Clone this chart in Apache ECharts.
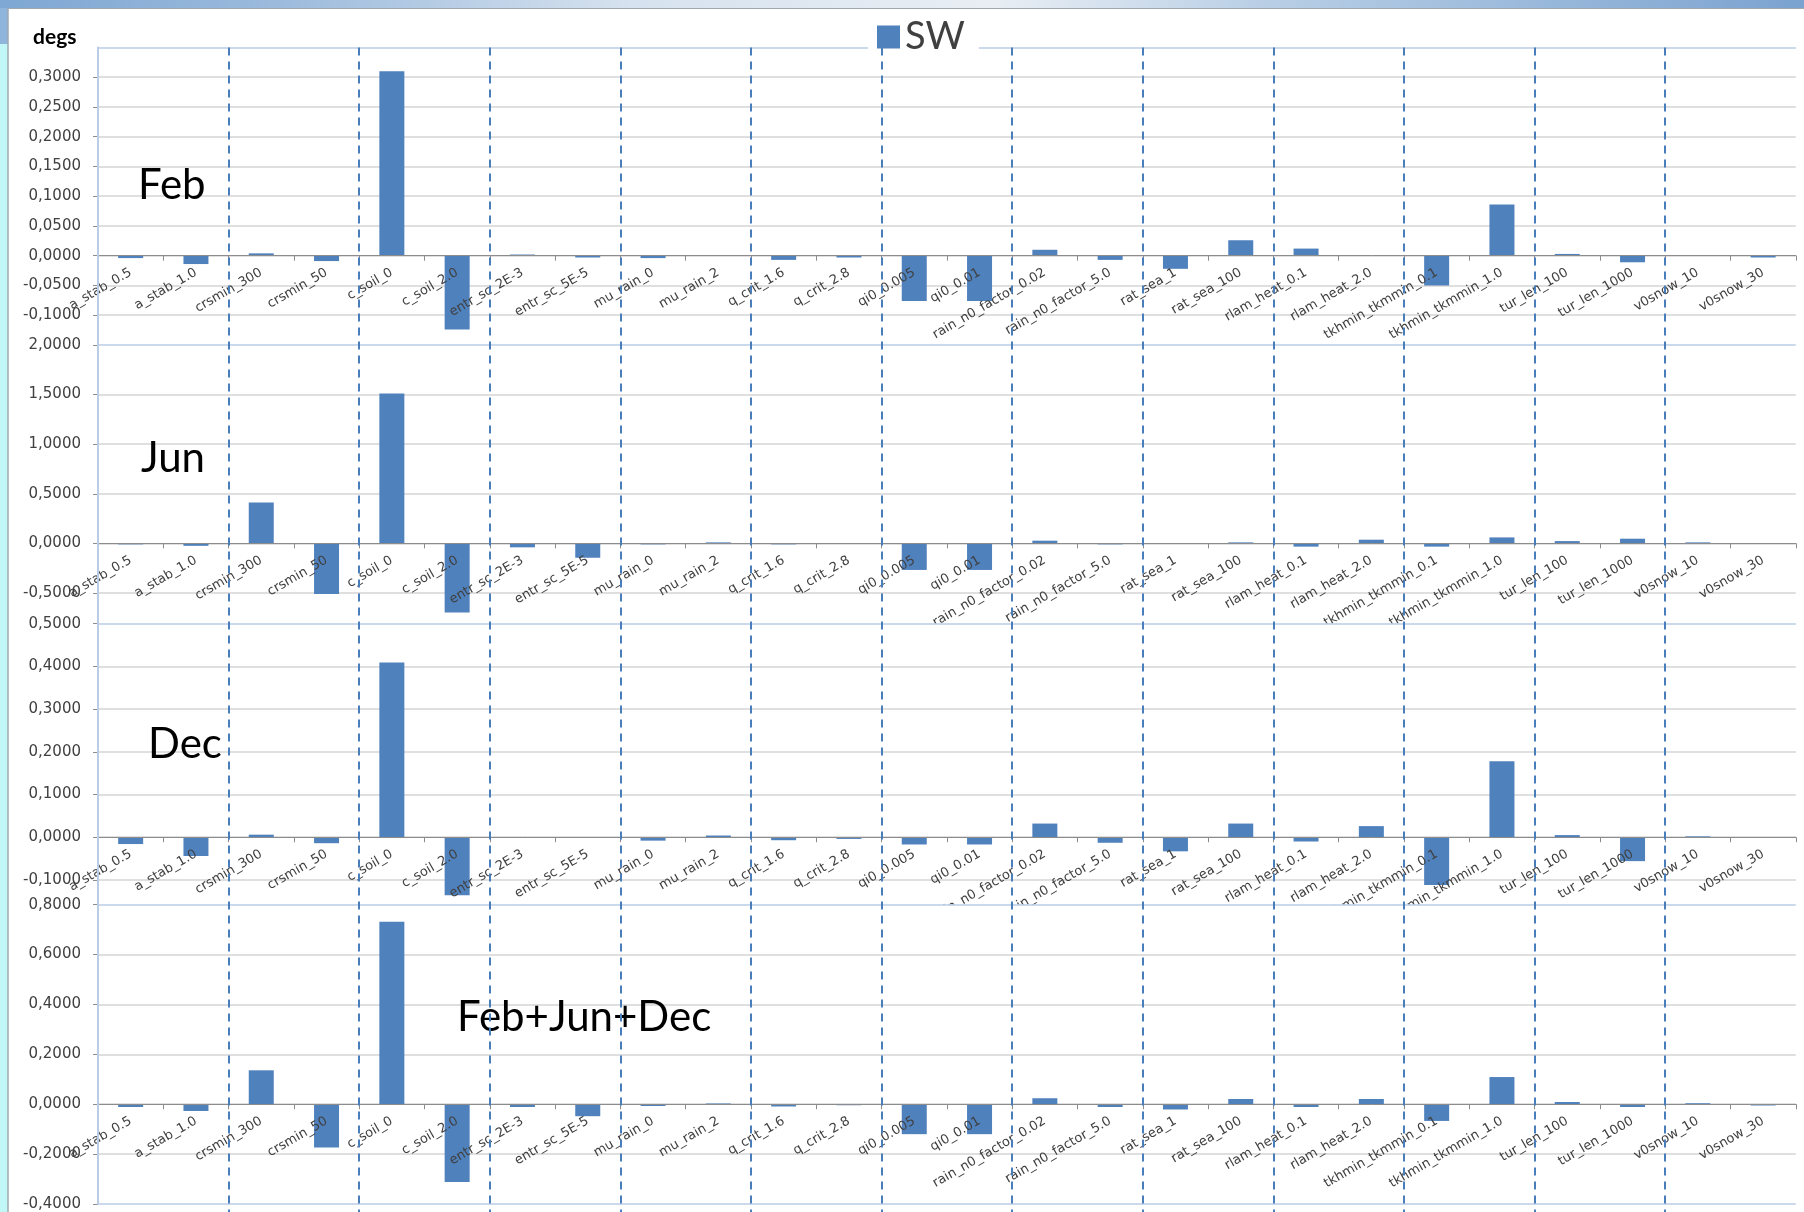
<!DOCTYPE html>
<html>
<head>
<meta charset="utf-8">
<script src="https://cdn.jsdelivr.net/npm/echarts@6/dist/echarts.min.js"></script>
<style>
html,body{margin:0;padding:0;background:#fff;}
#c{width:1804px;height:1212px;}
</style>
</head>
<body>
<div id="c"></div>
<script>
// ---------------- data ----------------
const categories = ['a_stab_0.5','a_stab_1.0','crsmin_300','crsmin_50','c_soil_0','c_soil_2.0',
  'entr_sc_2E-3','entr_sc_5E-5','mu_rain_0','mu_rain_2','q_crit_1.6','q_crit_2.8','qi0_0.005','qi0_0.01',
  'rain_n0_factor_0.02','rain_n0_factor_5.0','rat_sea_1','rat_sea_100','rlam_heat_0.1','rlam_heat_2.0',
  'tkhmin_tkmmin_0.1','tkhmin_tkmmin_1.0','tur_len_100','tur_len_1000','v0snow_10','v0snow_30'];
const febValues  = [-0.004,-0.014,0.004,-0.009,0.310,-0.124,0.002,-0.003,-0.004,0.001,-0.007,-0.003,-0.076,-0.076,
  0.010,-0.007,-0.022,0.026,0.012,0.000,-0.050,0.086,0.003,-0.011,0.001,-0.003];
const junValues  = [-0.010,-0.025,0.412,-0.510,1.512,-0.698,-0.040,-0.145,-0.010,0.010,-0.010,0.003,-0.268,-0.268,
  0.027,-0.010,0.002,0.010,-0.033,0.037,-0.033,0.060,0.023,0.047,0.010,0.000];
const decValues  = [-0.016,-0.044,0.006,-0.014,0.409,-0.136,0.000,-0.001,-0.008,0.004,-0.007,-0.004,-0.017,-0.017,
  0.032,-0.013,-0.033,0.032,-0.010,0.026,-0.112,0.178,0.005,-0.056,0.002,-0.001];
const combValues = [-0.011,-0.027,0.136,-0.173,0.732,-0.312,-0.011,-0.048,-0.007,0.003,-0.009,-0.004,-0.120,-0.120,
  0.024,-0.011,-0.021,0.021,-0.011,0.021,-0.067,0.109,0.009,-0.011,0.004,-0.005];
const panelLabels = ['Feb','Jun','Dec','Feb+Jun+Dec'];
const seriesName = 'SW';
const unitLabel = 'degs';
const yFormat = v => v.toFixed(4).replace('.', ',');

// ---------------- layout ----------------
const W = 1804, H = 1212;
const PLOT_LEFT = 98, CAT_W = 65.3, N = categories.length;
const FRAME_RIGHT = 1797;
const GRAY = '#8c8c8c', GRID = '#d4d4d4', FRAME = '#b9cde5', DASH = '#4a7ebb', BAR = '#4f81bd';

const panels = [
  {values: febValues,  top: 47.4,  bottom: 345,    min: -0.15,  max: 0.35, interval: 0.05, step: 0.05, showMin: false, showMax: false, minColor: 'rgba(0,0,0,0)', maxColor: FRAME,
   label: {left: 138, top: 164}},
  {values: junValues,  top: 345,   bottom: 623.7,  min: -0.81,  max: 2.0,  step: 0.5,  showMin: false, showMax: true, minColor: 'rgba(0,0,0,0)', maxColor: FRAME,
   label: {left: 141, top: 437}},
  {values: decValues,  top: 623.7, bottom: 904.7,  min: -0.158, max: 0.5,  step: 0.1,  showMin: false, showMax: true, minColor: 'rgba(0,0,0,0)', maxColor: FRAME,
   label: {left: 148, top: 723}},
  {values: combValues, top: 904.7, bottom: 1204,   min: -0.4,   max: 0.8,  interval: 0.2, step: 0.2, showMin: true, showMax: true, minColor: FRAME, maxColor: FRAME,
   label: {left: 457, top: 996}}
];

function splitColors(p) {
  const eps = 1e-9;
  const first = Math.ceil(p.min / p.step - eps);
  const last = Math.floor(p.max / p.step + eps);
  const ticks = [];
  if (Math.abs(first * p.step - p.min) > 1e-6) ticks.push(p.min);
  for (let k = first; k <= last; k++) ticks.push(k * p.step);
  if (Math.abs(last * p.step - p.max) > 1e-6) ticks.push(p.max);
  return ticks.map((t, i) => i === 0 ? p.minColor : (i === ticks.length - 1 ? p.maxColor : GRID));
}

const grids = [], xAxes = [], yAxes = [], series = [], titles = [];

panels.forEach((p, i) => {
  const h = p.bottom - p.top;
  const zeroY = p.top + p.max / (p.max - p.min) * h;
  grids.push({left: PLOT_LEFT, width: CAT_W * N, top: p.top, height: h,
    show: true, backgroundColor: '#fff', borderWidth: 0, z: 10 * i});
  xAxes.push({type: 'category', gridIndex: i, data: categories, z: 10 * i + 3,
    position: 'bottom', offset: -(p.bottom - zeroY),
    axisLine: {show: true, onZero: false, lineStyle: {color: GRAY, width: 1}},
    axisTick: {show: true, length: 5, lineStyle: {color: GRAY}},
    axisLabel: {interval: 0, rotate: 30, margin: 16, fontFamily: 'DejaVu Sans', fontSize: 13, color: '#404040'},
    splitLine: {show: false}});
  const y = {type: 'value', gridIndex: i, min: p.min, max: p.max, z: 10 * i + 1,
    axisLine: {show: true, lineStyle: {color: GRAY, width: 1}},
    axisTick: {show: true, length: 5, lineStyle: {color: GRAY}},
    axisLabel: {formatter: yFormat, fontFamily: 'DejaVu Sans', fontSize: 15, color: '#404040', margin: 17,
      showMinLabel: p.showMin, showMaxLabel: p.showMax},
    splitLine: {show: true, lineStyle: {color: splitColors(p), width: 1.5}}};
  if (p.interval) y.interval = p.interval;
  yAxes.push(y);
  series.push({type: 'bar', name: seriesName, xAxisIndex: i, yAxisIndex: i, data: p.values,
    barWidth: 25, itemStyle: {color: BAR}, z: 10 * i + 2, animation: false});
  titles.push({text: panelLabels[i], left: p.label.left, top: p.label.top, padding: 0, z: 60,
    textStyle: {fontFamily: 'Lato', fontSize: 42, fontWeight: 'normal', color: '#000'}});
});

// dashed separators every two categories
grids.push({left: PLOT_LEFT + 2 * CAT_W, width: (N - 4) * CAT_W, top: 47.4, bottom: 0, z: 70});
xAxes.push({type: 'value', gridIndex: 4, min: 2, max: N - 2, interval: 2, z: 70,
  axisLine: {show: false}, axisTick: {show: false}, axisLabel: {show: false},
  splitLine: {show: true, lineStyle: {color: DASH, width: 2, type: [8, 6]}}});
yAxes.push({type: 'value', gridIndex: 4, show: false, min: 0, max: 1});

// right frame edge
grids.push({left: PLOT_LEFT, right: W - FRAME_RIGHT, top: 47.4, bottom: H - 1204, z: 65});
xAxes.push({type: 'value', gridIndex: 5, show: false, min: 0, max: 1});
yAxes.push({type: 'value', gridIndex: 5, position: 'right', min: 0, max: 1, z: 65,
  axisLine: {show: true, lineStyle: {color: FRAME, width: 2}},
  axisTick: {show: false}, axisLabel: {show: false}, splitLine: {show: false}});

titles.push({text: unitLabel, left: 33, top: 27, padding: 0, z: 60,
  textStyle: {fontFamily: 'Lato', fontSize: 21, fontWeight: 'bold', color: '#000'}});

const chart = echarts.init(document.getElementById('c'), null, {renderer: 'canvas'});
chart.setOption({
  animation: false,
  backgroundColor: '#fff',
  title: titles,
  legend: {data: [seriesName], left: 868, top: 18, itemWidth: 23, itemHeight: 23, icon: 'rect', itemGap: 0,
    padding: [0, 14, 0, 9], backgroundColor: '#fff', selectedMode: false, z: 60,
    textStyle: {fontFamily: 'Lato', fontSize: 38, color: '#404040'}},
  grid: grids,
  xAxis: xAxes,
  yAxis: yAxes,
  series: series,
  graphic: [
    {type: 'rect', z: 100, shape: {x: 0, y: 0, width: W, height: 8},
      style: {fill: {type: 'linear', x: 0, y: 0, x2: 1, y2: 0, colorStops: [
        {offset: 0, color: '#7ea7d3'}, {offset: 0.15, color: '#9bbadc'}, {offset: 0.35, color: '#d6e2ef'},
        {offset: 0.55, color: '#e9eef4'}, {offset: 0.7, color: '#b9cfe6'}, {offset: 1, color: '#7ba3d0'}]}}},
    {type: 'rect', z: 100, shape: {x: 0, y: 8, width: 8, height: H - 8}, style: {fill: '#c2f7f7'}},
    {type: 'rect', z: 100, shape: {x: 0, y: 8, width: 8, height: 36}, style: {fill: '#8fb5dc'}},
    {type: 'line', z: 100, shape: {x1: 8, y1: 8, x2: 8, y2: H}, style: {stroke: '#a0a8b0', lineWidth: 1.5}},
    {type: 'line', z: 100, shape: {x1: 8, y1: 8.5, x2: W, y2: 8.5}, style: {stroke: '#a0a8b0', lineWidth: 1}}
  ]
});
</script>
</body>
</html>
